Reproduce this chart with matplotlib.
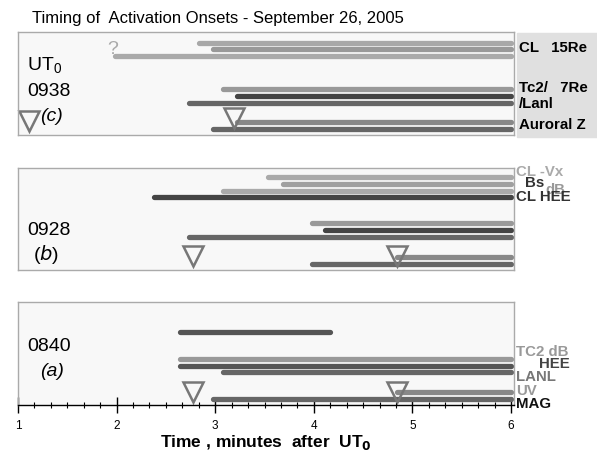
import numpy as np
import matplotlib
matplotlib.use("Agg")
import matplotlib.pyplot as plt
from matplotlib.patches import Rectangle
from matplotlib.ticker import MultipleLocator

plt.rcParams['font.family'] = ['Liberation Sans', 'DejaVu Sans']

# onset times (minutes after UT0), bars run to the end of the window
t_end = 6.0

c_start = [2.84, 2.98, 1.98, 3.08, 3.22, 2.73, 3.22, 2.98]
c_row = [1.6, 2.5, 3.5, 8.4, 9.4, 10.4, 13.3, 14.2]
c_col = ['#a8a8a8', '#999999', '#aaaaaa', '#999999', '#444444', '#666666', '#888888', '#666666']
c_tri = [1.11, 3.19]
c_tri_row = [13.1, 12.7]

b_start = [3.54, 3.69, 3.08, 2.38, 3.98, 4.11, 2.73, 4.84, 3.98]
b_row = [1.3, 2.35, 3.4, 4.3, 8.2, 9.25, 10.3, 13.2, 14.2]
b_col = ['#aaaaaa', '#a0a0a0', '#aaaaaa', '#444444', '#999999', '#444444', '#666666', '#888888', '#666666']
b_tri = [2.77, 4.84]
b_tri_row = [13.1, 13.1]

a_start = [2.64, 2.64, 2.64, 3.08, 4.84, 2.98]
a_stop = [4.16, 6.0, 6.0, 6.0, 6.0, 6.0]
a_row = [4.4, 8.35, 9.35, 10.3, 13.2, 14.2]
a_col = ['#555555', '#999999', '#555555', '#666666', '#888888', '#666666']
a_tri = [2.77, 4.84]
a_tri_row = [13.3, 13.3]

fig = plt.figure(figsize=(5.97, 4.54), dpi=100)

W, H = 597, 454
def box(x0, y0, x1, y1):
    return [x0 / W, 1 - y1 / H, (x1 - x0) / W, (y1 - y0) / H]

# grey label box behind panel (c) names
fig.patches.append(Rectangle((517 / W, 1 - 137 / H), 80 / W, 104 / H,
                             transform=fig.transFigure, color='#e0e0e0', zorder=-1))

axc = fig.add_axes(box(18, 32, 514, 135))
axb = fig.add_axes(box(18, 168, 514, 270))
axa = fig.add_axes(box(18, 302, 514, 405))

for ax in (axc, axb, axa):
    ax.set_facecolor('#f8f8f8')
    ax.set_xlim(1, 6.03)
    ax.set_ylim(15.15, 0)
    ax.set_yticks([])
    for s in ax.spines.values():
        s.set_color('#aaaaaa')
        s.set_linewidth(1)

def draw(ax, starts, stops, rows, cols, tri, tri_row):
    for x0, x1, y, c in zip(starts, stops, rows, cols):
        ax.plot([x0, x1], [y, y], color=c, lw=3.8, solid_capstyle='round')
    ax.plot(tri, tri_row, 'v', ms=15, mfc='none', mec='#777777', mew=1.8,
            clip_on=False)

draw(axc, c_start, [t_end] * len(c_start), c_row, c_col, c_tri, c_tri_row)
draw(axb, b_start, [t_end] * len(b_start), b_row, b_col, b_tri, b_tri_row)
draw(axa, a_start, a_stop, a_row, a_col, a_tri, a_tri_row)

axc.set_xticks([])
axb.set_xticks([])

# bottom axis
axa.spines['bottom'].set_color('black')
axa.xaxis.set_major_locator(MultipleLocator(1))
axa.xaxis.set_minor_locator(MultipleLocator(1 / 6))
axa.tick_params(axis='x', which='major', direction='inout', length=11, width=1,
                labelsize=8.5, pad=5)
axa.tick_params(axis='x', which='minor', direction='inout', length=5, width=0.8)
axa.set_xlabel('Time , minutes  after  UT$_\\mathbf{0}$', fontsize=12.5,
               fontweight='bold', labelpad=1)

lab = 10.8
big = 14

# panel c annotations
axc.text(1.96, 2.6, '?', color='#aaaaaa', fontsize=14, ha='center', va='center')
axc.text(1.09, 5.0, 'UT$_\\mathregular{0}$', fontsize=big, va='center')
axc.text(1.09, 8.8, '0938', fontsize=big, va='center')
axc.text(1.22, 12.5, '(c)', fontsize=big, va='center', style='italic')

for txt, y in [('CL   15Re', 2.35), ('Tc2/   7Re', 8.2), ('/Lanl', 10.6), ('Auroral Z', 13.7)]:
    axc.text(6.08, y, txt, fontsize=lab, fontweight='bold', va='center', clip_on=False)

# panel b annotations
axb.text(1.09, 9.3, '0928', fontsize=big, va='center')
axb.text(1.15, 12.9, '($b$)', fontsize=big, va='center')
axb.text(6.05, 0.6, 'CL -Vx', fontsize=lab, fontweight='bold', color='#aaaaaa', va='center')
axb.text(6.14, 2.2, 'Bs', fontsize=lab, fontweight='bold', color='#333333', va='center')
axb.text(6.35, 3.3, 'dB', fontsize=lab, fontweight='bold', color='#999999', va='center')
axb.text(6.05, 4.3, 'CL HEE', fontsize=lab, fontweight='bold', color='#333333', va='center')

# panel a annotations
axa.text(1.09, 6.6, '0840', fontsize=big, va='center')
axa.text(1.22, 10.2, '(a)', fontsize=big, va='center', style='italic')
for txt, y, c in [('TC2 dB', 7.35, '#999999'), ('LANL', 11.0, '#777777'),
                  ('UV', 13.1, '#999999'), ('MAG', 15.0, '#111111')]:
    axa.text(6.05, y, txt, fontsize=lab, fontweight='bold', color=c, va='center',
             clip_on=False)
axa.text(6.6, 9.15, 'HEE', fontsize=lab, fontweight='bold', color='#444444',
         va='center', ha='right')

fig.text(32 / W, 1 - 18 / H, 'Timing of  Activation Onsets - September 26, 2005',
         fontsize=12, va='center')

fig.savefig('out.png', dpi=100)
